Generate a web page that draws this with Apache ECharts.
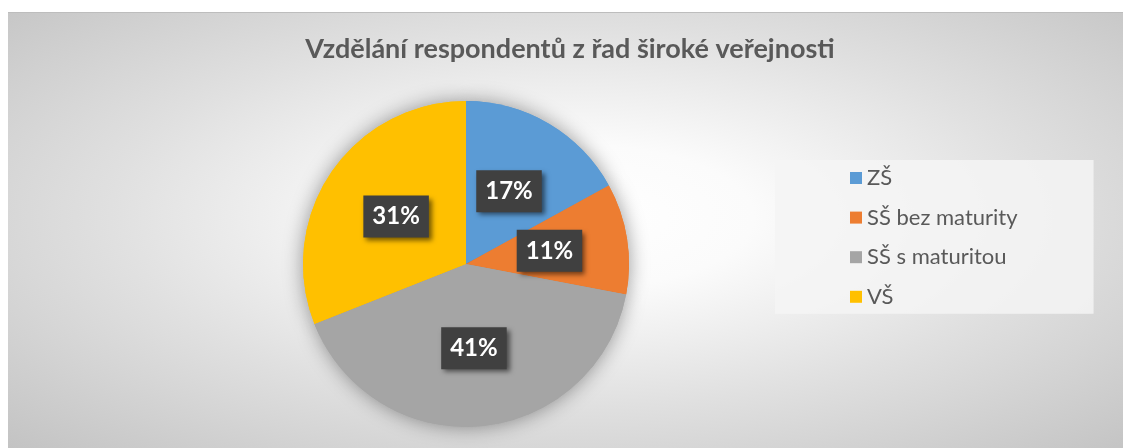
<!DOCTYPE html>
<html>
<head>
<meta charset="utf-8">
<script src="https://cdn.jsdelivr.net/npm/echarts@6/dist/echarts.min.js"></script>
<style>
  html, body { margin: 0; padding: 0; background: #ffffff; }
  #chart {
    position: absolute; left: 8px; top: 12px; width: 1115px; height: 436px;
    background: radial-gradient(ellipse farthest-corner at 51% 47%, #ffffff 0%, #fbfbfb 22%, #e0e0e0 58%, #c3c3c3 100%);
    box-shadow: inset 0 1px 0 #bdbdbd;
  }
</style>
</head>
<body>
<div id="chart"></div>
<script>
const titleText = "Vzdělání respondentů z řad široké veřejnosti";
const categories = ["ZŠ", "SŠ bez maturity", "SŠ s maturitou", "VŠ"];
const shares = [17, 11, 41, 31];
const colors = ["#5B9BD5", "#ED7D31", "#A5A5A5", "#FFC000"];

const pieData = categories.map((name, i) => ({ name, value: shares[i] }));

const chart = echarts.init(document.getElementById("chart"), null, { renderer: "canvas" });

const pieCenter = [458, 252];
const pieRadius = 163;

chart.setOption({
  animation: false,
  backgroundColor: "transparent",
  color: colors,
  title: {
    text: titleText,
    left: 562,
    top: 24,
    padding: 0,
    textAlign: "center",
    textStyle: {
      fontFamily: "Lato",
      fontWeight: "bold",
      fontSize: 27,
      color: "#595959"
    }
  },
  legend: {
    orient: "vertical",
    left: 767,
    top: 148,
    padding: [7, 76, 6, 75],
    itemWidth: 12,
    itemHeight: 12,
    itemGap: 17.6,
    icon: "rect",
    selectedMode: false,
    backgroundColor: "rgba(244,244,244,0.85)",
    textStyle: {
      fontFamily: "Lato",
      fontSize: 22,
      lineHeight: 22,
      color: "#595959"
    },
    data: categories
  },
  series: [
    {
      // soft halo behind the pie
      type: "pie",
      silent: true,
      center: pieCenter,
      radius: pieRadius,
      startAngle: 90,
      label: { show: false },
      labelLine: { show: false },
      itemStyle: {
        shadowBlur: 20,
        shadowColor: "rgba(0,0,0,0.4)"
      },
      data: pieData
    },
    {
      type: "pie",
      center: pieCenter,
      radius: pieRadius,
      startAngle: 90,
      avoidLabelOverlap: false,
      labelLine: { show: false },
      label: {
        show: true,
        position: "inside",
        formatter: "{c}%",
        fontFamily: "Lato",
        fontWeight: "bold",
        fontSize: 24,
        lineHeight: 26,
        color: "#ffffff",
        backgroundColor: "#404040",
        padding: [8, 9, 8, 9],
        shadowColor: "rgba(0,0,0,0.55)",
        shadowBlur: 5,
        shadowOffsetX: 3,
        shadowOffsetY: 3
      },
      emphasis: { disabled: true },
      data: pieData
    }
  ]
});
</script>
</body>
</html>
